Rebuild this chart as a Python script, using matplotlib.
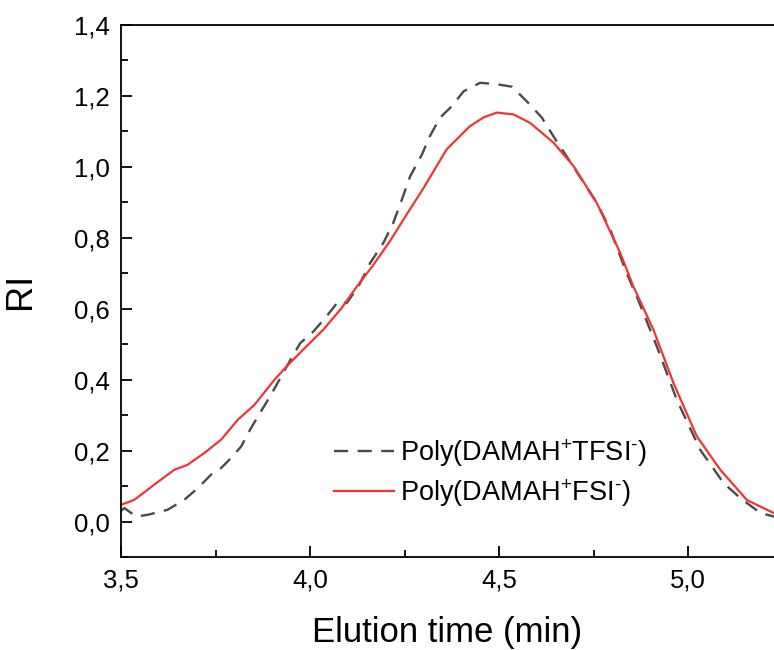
import numpy as np
import matplotlib.pyplot as plt
from matplotlib.ticker import MultipleLocator, FuncFormatter

plt.rcParams['font.family'] = ['Liberation Sans', 'DejaVu Sans']
plt.rcParams['mathtext.fontset'] = 'custom'
plt.rcParams['mathtext.rm'] = 'Liberation Sans'
plt.rcParams['mathtext.it'] = 'Liberation Sans'

# Poly(DAMAH+TFSI-) - dashed trace
t_tfsi = [3.500, 3.509, 3.540, 3.571, 3.623, 3.667, 3.703, 3.738, 3.765, 3.791, 3.818,
          3.844, 3.870, 3.897, 3.919, 3.945, 3.974, 4.009, 4.044, 4.075, 4.097, 4.128,
          4.159, 4.194, 4.220, 4.243, 4.265, 4.296, 4.317, 4.344, 4.375, 4.406, 4.450,
          4.494, 4.534, 4.573, 4.613, 4.649, 4.684, 4.724, 4.758, 4.794, 4.837, 4.864,
          4.917, 4.970, 5.032, 5.094, 5.138, 5.191, 5.227]
ri_tfsi = [0.030, 0.038, 0.014, 0.019, 0.033, 0.061, 0.094, 0.132, 0.151, 0.179, 0.212,
           0.264, 0.310, 0.358, 0.400, 0.450, 0.503, 0.536, 0.579, 0.621, 0.616, 0.663,
           0.729, 0.786, 0.842, 0.908, 0.974, 1.035, 1.087, 1.139, 1.171, 1.213, 1.237,
           1.233, 1.226, 1.185, 1.139, 1.077, 1.021, 0.955, 0.899, 0.823, 0.701, 0.635,
           0.494, 0.343, 0.202, 0.108, 0.066, 0.024, 0.014]

# Poly(DAMAH+FSI-) - solid trace
t_fsi = [3.500, 3.535, 3.588, 3.641, 3.676, 3.720, 3.765, 3.809, 3.853, 3.906, 3.945,
         3.982, 4.035, 4.082, 4.124, 4.165, 4.211, 4.255, 4.300, 4.361, 4.423, 4.460,
         4.494, 4.538, 4.582, 4.644, 4.697, 4.758, 4.820, 4.855, 4.908, 4.961, 5.023,
         5.085, 5.155, 5.226]
ri_fsi = [0.047, 0.061, 0.104, 0.146, 0.160, 0.193, 0.231, 0.287, 0.329, 0.400, 0.445,
          0.485, 0.541, 0.600, 0.663, 0.720, 0.790, 0.865, 0.940, 1.049, 1.115, 1.140,
          1.153, 1.148, 1.124, 1.068, 1.002, 0.899, 0.758, 0.663, 0.541, 0.391, 0.240,
          0.146, 0.061, 0.024]

fig = plt.figure(figsize=(7.74, 6.5), dpi=100)
ax = fig.add_axes([121 / 774, 93 / 650, 1 - 121 / 774, 532 / 650])

ax.plot(t_tfsi, ri_tfsi, color='#4a4a4a', lw=1.7, ls=(0, (6, 4)),
        label='Poly(DAMAH$^{+}$TFSI$^{\\text{-}}$)')
ax.plot(t_fsi, ri_fsi, color='#f03535', lw=1.6, label='Poly(DAMAH$^{+}$FSI$^{\\text{-}}$)')

ax.set_xlim(3.5, 5.227)
ax.set_ylim(-0.1, 1.4)
ax.xaxis.set_major_locator(MultipleLocator(0.5))
ax.xaxis.set_minor_locator(MultipleLocator(0.25))
ax.yaxis.set_major_locator(MultipleLocator(0.2))
ax.yaxis.set_minor_locator(MultipleLocator(0.1))
ax.xaxis.set_major_formatter(FuncFormatter(lambda v, p: f"{v:.1f}".replace('.', ',')))
ax.yaxis.set_major_formatter(FuncFormatter(lambda v, p: f"{v:.1f}".replace('.', ',')))
ax.tick_params(which='both', direction='in', width=1.3, labelsize=18.5, pad=8)
ax.tick_params(which='major', length=8)
ax.tick_params(which='minor', length=5)
ax.tick_params(top=False, right=False)
ax.spines['right'].set_visible(False)
for s in ['left', 'bottom', 'top']:
    ax.spines[s].set_linewidth(1.3)

ax.set_xlabel('Elution time (min)', fontsize=25, labelpad=17)
ax.set_ylabel('RI', fontsize=26, labelpad=26)

ax.legend(loc='lower left', bbox_to_anchor=(0.289, 0.045), frameon=False, fontsize=19.5,
          handlelength=2.2, handletextpad=0.25, labelspacing=0.3)

fig.savefig('out.png', dpi=100)
